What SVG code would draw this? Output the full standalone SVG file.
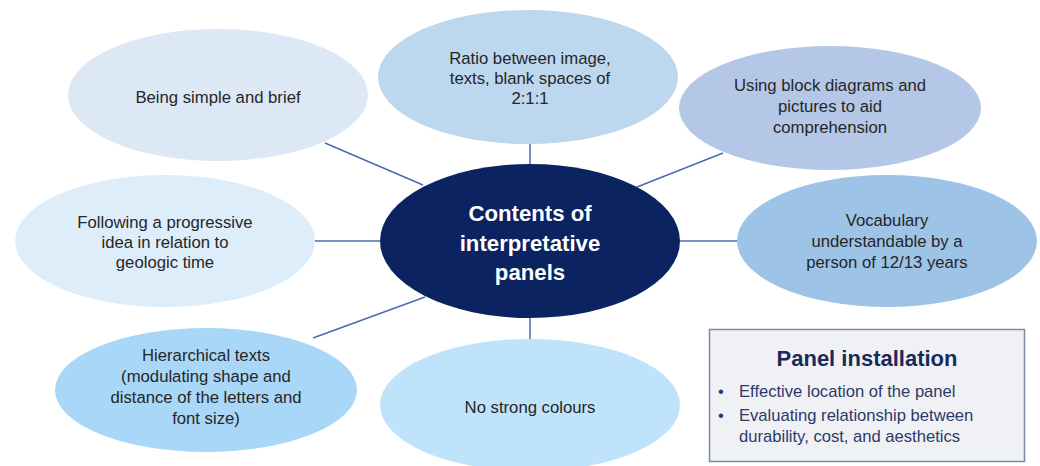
<svg xmlns="http://www.w3.org/2000/svg" width="1040" height="466" viewBox="0 0 1040 466">
<style>
.t{font-family:"Liberation Sans",Arial,sans-serif;font-size:16.7px;fill:#262626;text-anchor:middle}
.c{font-family:"Liberation Sans",Arial,sans-serif;font-size:22.2px;font-weight:bold;fill:#ffffff;text-anchor:middle}
.conn line{stroke:#4a6cae;stroke-width:1.5}
.h{font-family:"Liberation Sans",Arial,sans-serif;font-size:22px;font-weight:bold;fill:#1b2a5c;text-anchor:middle}
.b{font-family:"Liberation Sans",Arial,sans-serif;font-size:16.6px;fill:#2b3a68}
</style>
<rect width="1040" height="466" fill="#ffffff"/>
<g id="connectors" class="conn">
<line x1="530" y1="143" x2="530" y2="164"/>
<line x1="530" y1="318" x2="530" y2="339"/>
<line x1="315" y1="241" x2="380" y2="241"/>
<line x1="680" y1="241" x2="737" y2="241"/>
<line x1="325" y1="143" x2="423" y2="185"/>
<line x1="723" y1="153" x2="637" y2="187"/>
<line x1="313" y1="338" x2="425" y2="297"/>
</g>
<g id="node-simple">
<ellipse cx="218" cy="95" rx="150" ry="66" fill="#dce8f5"/>
<text class="t" x="218" y="103">Being simple and brief</text>
</g>
<g id="node-ratio">
<ellipse cx="528" cy="77" rx="150" ry="67" fill="#bdd7ee"/>
<text class="t" x="530" y="64">Ratio between image,</text>
<text class="t" x="530" y="84">texts, blank spaces of</text>
<text class="t" x="530" y="104">2:1:1</text>
</g>
<g id="node-block">
<ellipse cx="830" cy="108" rx="151" ry="62" fill="#b4c7e7"/>
<text class="t" x="830" y="91">Using block diagrams and</text>
<text class="t" x="830" y="112">pictures to aid</text>
<text class="t" x="830" y="133">comprehension</text>
</g>
<g id="node-following">
<ellipse cx="165" cy="241" rx="150" ry="66" fill="#deedfa"/>
<text class="t" x="165" y="228">Following a progressive</text>
<text class="t" x="165" y="248">idea in relation to</text>
<text class="t" x="165" y="268">geologic time</text>
</g>
<g id="node-vocabulary">
<ellipse cx="887" cy="241" rx="150" ry="66" fill="#9dc3e6"/>
<text class="t" x="887" y="226">Vocabulary</text>
<text class="t" x="887" y="247">understandable by a</text>
<text class="t" x="887" y="268">person of 12/13 years</text>
</g>
<g id="node-hierarchical">
<ellipse cx="206" cy="390" rx="151" ry="62" fill="#a9d7f7"/>
<text class="t" x="206" y="361">Hierarchical texts</text>
<text class="t" x="206" y="382">(modulating shape and</text>
<text class="t" x="206" y="403">distance of the letters and</text>
<text class="t" x="206" y="424">font size)</text>
</g>
<g id="node-colours">
<ellipse cx="530" cy="405" rx="150" ry="66" fill="#bee3fa"/>
<text class="t" x="530" y="413">No strong colours</text>
</g>
<g id="node-center">
<ellipse cx="530" cy="241" rx="150" ry="77" fill="#0b2461"/>
<text class="c" x="530" y="221">Contents of</text>
<text class="c" x="530" y="251">interpretative</text>
<text class="c" x="530" y="280">panels</text>
</g>
<g id="panel-installation">
<rect x="709.5" y="329.5" width="315" height="132" fill="#f0f1f5" stroke="#7d8aa3" stroke-width="1.5"/>
<text class="h" x="867" y="366">Panel installation</text>
<text class="b" x="718" y="397" font-size="13">•</text>
<text class="b" x="739" y="397">Effective location of the panel</text>
<text class="b" x="718" y="421" font-size="13">•</text>
<text class="b" x="739" y="421">Evaluating relationship between</text>
<text class="b" x="739" y="442">durability, cost, and aesthetics</text>
</g>
</svg>
